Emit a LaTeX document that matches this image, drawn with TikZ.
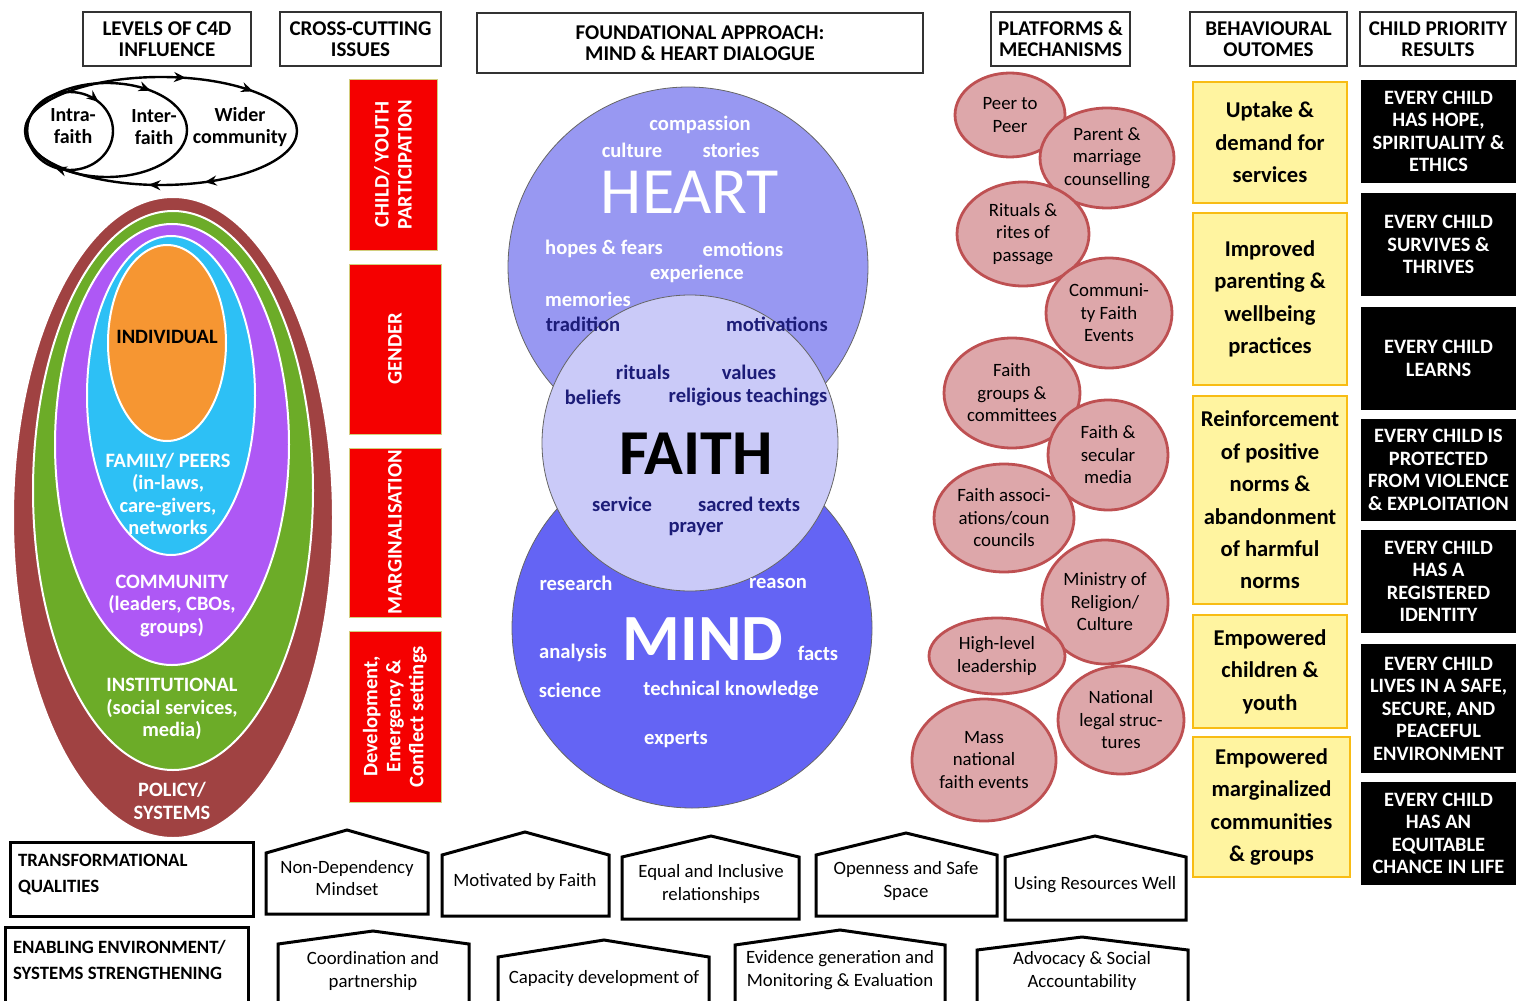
\documentclass[tikz,border=0pt]{standalone}
\usepackage{fontspec}
\setmainfont{Carlito}
\usepackage{tikz}
\usetikzlibrary{shapes.geometric, decorations.markings, arrows.meta}

\definecolor{policyred}{RGB}{160,66,66}
\definecolor{instgreen}{RGB}{108,172,40}
\definecolor{commpurple}{RGB}{174,88,245}
\definecolor{famcyan}{RGB}{45,192,245}
\definecolor{indorange}{RGB}{246,150,50}
\definecolor{heartblue}{RGB}{152,152,242}
\definecolor{mindblue}{RGB}{100,100,244}
\definecolor{faithblue}{RGB}{202,202,248}
\definecolor{navy}{RGB}{28,28,120}
\definecolor{platpink}{RGB}{221,167,170}
\definecolor{platedge}{RGB}{190,80,82}
\definecolor{outyellow}{RGB}{255,244,160}
\definecolor{outedge}{RGB}{248,188,20}
\definecolor{issuered}{RGB}{245,0,0}

\tikzset{
x=0.5pt, y=-0.5pt, % one unit is one pixel of the sketch
header/.style={draw=black!80, line width=0.9pt, align=center, inner sep=0pt, font=\fontsize{10.5}{10.5}\selectfont\bfseries}, % column titles
loopline/.style={line width=1.2pt, postaction=decorate}, % faith circles of influence
looptip/.tip={Stealth[length=6pt, width=5pt]},
looptext/.style={align=center, font=\fontsize{10}{11}\selectfont\bfseries},
level/.style={ellipse, draw=white, line width=1pt, inner sep=0pt}, % nested C4D levels
leveltext/.style={align=center, text=white, font=\fontsize{10.2}{11.25}\selectfont\bfseries},
issue/.style={rotate=90, fill=issuered, draw=olive!40, align=center, text=white, inner sep=0pt, font=\fontsize{10.3}{11.5}\selectfont\bfseries},
venn/.style={circle, draw=black!60, thin, inner sep=0pt},
word/.style={text=white, font=\fontsize{10.3}{11}\selectfont\bfseries},
faithword/.style={text=navy, font=\fontsize{10.3}{11}\selectfont\bfseries},
platform/.style={ellipse, fill=platpink, draw=platedge, line width=1.4pt, align=center, inner sep=0pt, font=\fontsize{9.4}{11.25}\selectfont},
outcome/.style={fill=outyellow, draw=outedge, line width=1.4pt, align=center, inner sep=0pt, minimum width=77pt, font=\fontsize{11.3}{16.2}\selectfont\bfseries},
result/.style={fill=black, align=center, text=white, inner sep=0pt, minimum width=77.5pt, font=\fontsize{10.2}{11.25}\selectfont\bfseries},
house/.style={draw=black, line width=1.5pt, line join=miter, fill=white},
housetext/.style={align=center, font=\fontsize{9.4}{11.25}\selectfont},
labelbox/.style={draw=black, line width=1.5pt, inner sep=0pt},
labeltext/.style={align=left, anchor=west, font=\fontsize{9.4}{13}\selectfont\bfseries},
}

\begin{document}
\begin{tikzpicture}
\useasboundingbox (0,0) rectangle (1524,1000);

% column headers
\node[header, minimum width=84pt, minimum height=27pt] (hlevels) at (167,39) {LEVELS OF C4D\\INFLUENCE};
\node[header, minimum width=80.5pt, minimum height=27pt] (hissues) at (360.5,39) {CROSS-CUTTING\\ISSUES};
\node[header, minimum width=223pt, minimum height=30pt] (happroach) at (700,43) {FOUNDATIONAL APPROACH:\\MIND \& HEART DIALOGUE};
\node[header, minimum width=69.5pt, minimum height=27pt] (hplatforms) at (1060.5,39) {PLATFORMS \&\\MECHANISMS};
\node[header, minimum width=78.5pt, minimum height=27pt] (houtcomes) at (1268.5,39) {BEHAVIOURAL\\OUTOMES};
\node[header, minimum width=78pt, minimum height=27pt] (hresults) at (1438,39) {CHILD PRIORITY\\RESULTS};

% intra / inter / wider loops
\draw[loopline, decoration={markings,
  mark=at position 0.18 with {\arrow{looptip}}, mark=at position 0.27 with {\arrow{looptip}},
  mark=at position 0.79 with {\arrow{looptip}}, mark=at position 0.90 with {\arrow{looptip}}}]
  (161,131) ellipse [x radius=136, y radius=54];
\draw[loopline, decoration={markings, mark=at position 0.86 with {\arrow{looptip}}}]
  (107,130) ellipse [x radius=80, y radius=47];
\draw[loopline, decoration={markings,
  mark=at position 0.31 with {\arrow{looptip}}, mark=at position 0.87 with {\arrow{looptip}}}]
  (70,131) ellipse [x radius=43, y radius=39];
\node[looptext] (intra) at (73,126) {Intra-\\faith};
\node[looptext] (inter) at (154,127) {Inter-\\faith};
\node[looptext] (wider) at (240,127) {Wider\\community};

% levels of influence
\node[level, fill=policyred, minimum width=160pt, minimum height=320.5pt] (policy) at (173,517.5) {};
\node[level, fill=instgreen, minimum width=140pt, minimum height=279.5pt] (inst) at (173,490.5) {};
\node[level, fill=commpurple, minimum width=117pt, minimum height=220.5pt] (comm) at (172,444.5) {};
\node[level, fill=famcyan, minimum width=84pt, minimum height=159.5pt] (family) at (171,395.5) {};
\node[level, fill=indorange, minimum width=59pt, minimum height=98pt] (indiv) at (167,343) {};
\node[leveltext, text=black] (tindiv) at (167,337) {INDIVIDUAL};
\node[leveltext] (tfamily) at (168,494) {FAMILY/ PEERS\\(in-laws,\\care-givers,\\networks};
\node[leveltext] (tcomm) at (172,606) {COMMUNITY\\(leaders, CBOs,\\groups)};
\node[leveltext] (tinst) at (172,709) {INSTITUTIONAL\\(social services,\\media)};
\node[leveltext] (tpolicy) at (172,801) {POLICY/\\SYSTEMS};

% cross-cutting issues
\node[issue, minimum width=85.5pt, minimum height=44pt] (youth) at (393,164.5) {CHILD/ YOUTH\\PARTICIPATION};
\node[issue, minimum width=85pt, minimum height=46pt] (gender) at (395,349) {GENDER};
\node[issue, minimum width=84.5pt, minimum height=46pt] (margin) at (395,532.5) {MARGINALISATION};
\node[issue, minimum width=85.5pt, minimum height=46pt] (settings) at (395,716.5) {Development,\\Emergency \&\\Conflect settings};

% mind & heart dialogue
\node[venn, fill=heartblue, minimum size=180pt] (heart) at (688,267) {};
\node[venn, fill=mindblue, minimum size=180pt] (mind) at (692,628) {};
\node[venn, fill=faithblue, minimum size=148pt] (faith) at (690,443) {};

\node[word] (compassion) at (700,125) {compassion};
\node[word] (culture) at (632,150) {culture};
\node[word] (stories) at (731,150) {stories};
\node[text=white, font=\fontsize{33}{33}\selectfont] (theart) at (690,192) {HEART};
\node[word] (hopes) at (604,249) {hopes \& fears};
\node[word] (emotions) at (743,249) {emotions};
\node[word] (experience) at (697,274) {experience};
\node[word] (memories) at (588,299) {memories};
\node[faithword] (tradition) at (583,324) {tradition};
\node[faithword] (motivations) at (777,324) {motivations};

\node[faithword] (rituals) at (643,372) {rituals};
\node[faithword] (values) at (749,372) {values};
\node[faithword] (beliefs) at (593,397) {beliefs};
\node[faithword] (teachings) at (748,397) {religious teachings};
\node[font=\fontsize{32}{32}\selectfont\bfseries] (tfaith) at (696,454) {FAITH};
\node[faithword] (service) at (622,504) {service};
\node[faithword] (texts) at (749,504) {sacred texts};
\node[faithword] (prayer) at (696,529) {prayer};

\node[word] (research) at (576,583) {research};
\node[word] (reason) at (778,583) {reason};
\node[word] (analysis) at (573,653) {analysis};
\node[text=white, font=\fontsize{33}{33}\selectfont\bfseries] (tmind) at (703,639) {MIND};
\node[word] (facts) at (818,653) {facts};
\node[word] (science) at (570,690) {science};
\node[word] (technical) at (731,690) {technical knowledge};
\node[word] (experts) at (676,740) {experts};

% platforms & mechanisms
\node[platform, minimum width=55pt, minimum height=42pt] (peer) at (1010,115) {Peer to\\Peer};
\node[platform, minimum width=67pt, minimum height=50pt] (parent) at (1107,158) {Parent \&\\marriage\\counselling};
\node[platform, minimum width=66pt, minimum height=52pt] (rites) at (1023,234) {Rituals \&\\rites of\\passage};
\node[platform, minimum width=63pt, minimum height=55pt] (events) at (1109,313) {Communi-\\ty Faith\\Events};
\node[platform, minimum width=68pt, minimum height=55pt] (groups) at (1012,393) {Faith\\groups \&\\committees};
\node[platform, minimum width=60pt, minimum height=55pt] (media) at (1108,455) {Faith \&\\secular\\media};
\node[platform, minimum width=70pt, minimum height=54pt] (assoc) at (1004,518) {Faith associ-\\ations/coun\\councils};
\node[platform, minimum width=63pt, minimum height=62pt] (ministry) at (1105,602) {Ministry of\\Religion/\\Culture};
\node[platform, minimum width=68pt, minimum height=38pt] (leaders) at (997,656) {High-level\\leadership};
\node[platform, minimum width=63pt, minimum height=54pt] (legal) at (1121,720) {National\\legal struc-\\tures};
\node[platform, minimum width=72pt, minimum height=61pt] (mass) at (984,760) {Mass\\national\\faith events};

% behavioural outcomes
\node[outcome, minimum height=60.5pt] (uptake) at (1270,142.5) {Uptake \&\\demand for\\services};
\node[outcome, minimum height=86pt] (parenting) at (1270,299) {Improved\\parenting \&\\wellbeing\\practices};
\node[outcome, minimum height=104pt] (norms) at (1270,500) {Reinforcement\\of positive\\norms \&\\abandonment\\of harmful\\norms};
\node[outcome, minimum height=56.5pt] (children) at (1270,671.5) {Empowered\\children \&\\youth};
\node[outcome, minimum width=78.5pt, minimum height=70pt] (marginal) at (1271.5,807) {Empowered\\marginalized\\communities\\\& groups};

% child priority results
\node[result, minimum height=51.5pt] (hope) at (1438.5,131.5) {EVERY CHILD\\HAS HOPE,\\SPIRITUALITY \&\\ETHICS};
\node[result, minimum height=51.5pt] (thrives) at (1438.5,244.5) {EVERY CHILD\\SURVIVES \&\\THRIVES};
\node[result, minimum height=51.5pt] (learns) at (1438.5,358.5) {EVERY CHILD\\LEARNS};
\node[result, minimum height=51pt] (protected) at (1438.5,470) {EVERY CHILD IS\\PROTECTED\\FROM VIOLENCE\\\& EXPLOITATION};
\node[result, minimum height=51.5pt] (identity) at (1438.5,581.5) {EVERY CHILD\\HAS A\\REGISTERED\\IDENTITY};
\node[result, minimum height=64.5pt] (safe) at (1438.5,708.5) {EVERY CHILD\\LIVES IN A SAFE,\\SECURE, AND\\PEACEFUL\\ENVIRONMENT};
\node[result, minimum height=51.5pt] (chance) at (1438.5,833.5) {EVERY CHILD\\HAS AN\\EQUITABLE\\CHANCE IN LIFE};

% transformational qualities
\node[labelbox, minimum width=121.5pt, minimum height=37pt] (trans) at (131.5,879) {};
\node[labeltext] (ttrans) at (11,875) {TRANSFORMATIONAL\\QUALITIES};
\draw[house] (266,914) -- (266,853) -- (347,830) -- (428,853) -- (428,914) -- cycle;
\node[housetext] (mindset) at (347,878) {Non-Dependency\\Mindset};
\draw[house] (442,916) -- (442,855) -- (525,832) -- (609,855) -- (609,916) -- cycle;
\node[housetext] (motivated) at (525,881) {Motivated by Faith};
\draw[house] (622,919) -- (622,857) -- (711,836) -- (799,857) -- (799,919) -- cycle;
\node[housetext] (equal) at (711,884) {Equal and Inclusive\\relationships};
\draw[house] (816,916) -- (816,855) -- (906,833) -- (997,855) -- (997,916) -- cycle;
\node[housetext] (openness) at (906,881) {Openness and Safe\\Space};
\draw[house] (1005,920) -- (1005,857) -- (1095,836) -- (1186,857) -- (1186,920) -- cycle;
\node[housetext] (resources) at (1095,885) {Using Resources Well};

% enabling environment
\node[labelbox, minimum width=121.5pt, minimum height=42.5pt] (enab) at (126.5,969.5) {};
\node[labeltext] (tenab) at (6,960) {ENABLING ENVIRONMENT/\\SYSTEMS STRENGTHENING};
\draw[house] (278,1012) -- (278,944) -- (373,931) -- (469,944) -- (469,1012) -- cycle;
\node[housetext] (coord) at (373,971) {Coordination and\\partnership};
\draw[house] (498,1012) -- (498,957) -- (604,940) -- (709,957) -- (709,1012) -- cycle;
\node[housetext] (capacity) at (604,978) {Capacity development of};
\draw[house] (735,1012) -- (735,945) -- (840,930) -- (945,945) -- (945,1012) -- cycle;
\node[housetext] (evidence) at (840,970) {Evidence generation and\\Monitoring \& Evaluation};
\draw[house] (977,1012) -- (977,950) -- (1082,937) -- (1188,950) -- (1188,1012) -- cycle;
\node[housetext] (advocacy) at (1082,971) {Advocacy \& Social\\Accountability};
\end{tikzpicture}
\end{document}
